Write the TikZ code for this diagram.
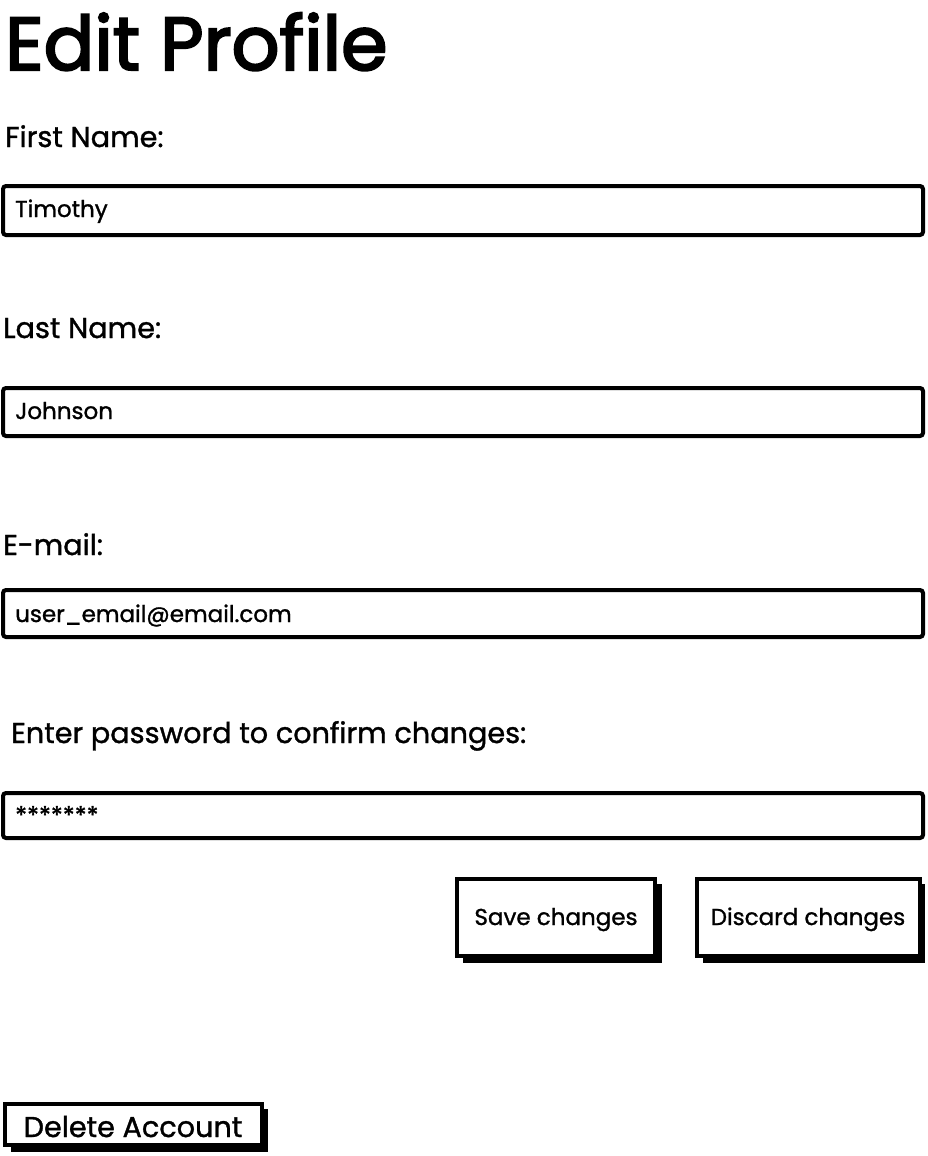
\documentclass[tikz,border=0pt]{standalone}
\usepackage{fontspec}
\setmainfont{Poppins}[FakeBold=1.2]
\newfontfamily\titlefont{Poppins}[FakeBold=2.8]
\tikzset{
  lbl/.style={anchor=base west, inner sep=0pt, font=\fontsize{28.7}{32}\selectfont},
  ftxt/.style={anchor=base west, inner sep=0pt, font=\fontsize{23}{27}\selectfont},
  field/.style={draw=black, line width=4pt, rounded corners=3pt, fill=white},
  btn/.style={draw=black, line width=4pt, fill=white},
  shadow/.style={fill=black},
}
\begin{document}
\begin{tikzpicture}[x=1pt,y=-1pt]
\useasboundingbox (0,0) rectangle (928,1156);
\node[anchor=base west, inner sep=0pt, font=\titlefont\fontsize{75}{82}\selectfont] (title) at (5,70) {Edit Profile};
% First name
\node[lbl] (l1) at (5,147) {First Name:};
\draw[field] (3,186) rectangle (923,235);
\node[ftxt] (t1) at (15,217) {Timothy};
% Last name
\node[lbl] (l2) at (3,338) {Last Name:};
\draw[field] (3,388) rectangle (923,436);
\node[ftxt] (t2) at (15,419) {Johnson};
% E-mail
\node[lbl] (l3) at (3,555) {E-mail:};
\draw[field] (3,590) rectangle (923,637);
\node[ftxt] (t3) at (15,622) {user\_email@email.com};
% Password
\node[lbl] (l4) at (11,743) {Enter password to confirm changes:};
\draw[field] (3,793) rectangle (923,838);
\node[ftxt, font=\fontsize{24.5}{28}\selectfont] (t4) at (15,824) {*******};
% Buttons
\fill[shadow] (463,884) rectangle (662,963);
\draw[btn] (457,879) rectangle (655,956);
\node[ftxt, anchor=base] (b1) at (556,925) {Save changes};
\fill[shadow] (703,884) rectangle (925,963);
\draw[btn] (697,879) rectangle (920,956);
\node[ftxt, anchor=base] (b2) at (808,925) {Discard changes};
\fill[shadow] (11,1109) rectangle (268,1152);
\draw[btn] (5,1104) rectangle (262,1145);
\node[lbl, anchor=base] (b3) at (133,1137) {Delete Account};
\end{tikzpicture}
\end{document}
